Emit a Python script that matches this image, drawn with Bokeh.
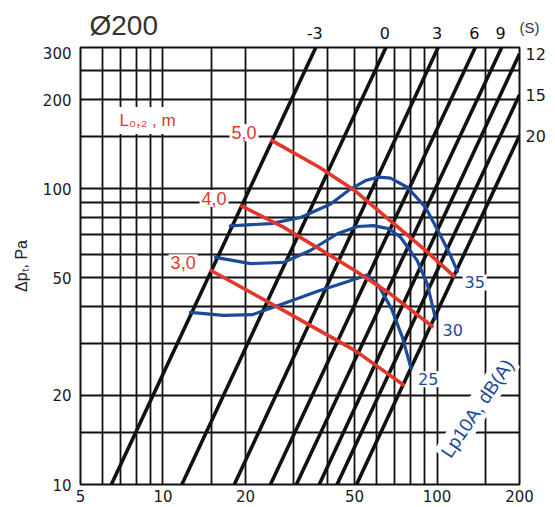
import numpy as np
from bokeh.plotting import figure
from bokeh.layouts import column
from bokeh.models import (FixedTicker, Label, Range1d, CustomJSTickFormatter, LogAxis,
                          LinearAxis)
from bokeh.embed import file_html
from bokeh.resources import INLINE

# ---------------- data ----------------
x_ticks = [5, 10, 20, 50, 100, 200]
y_ticks = [10, 20, 50, 100, 200, 300]
x_grid = [5, 6, 7, 8, 9, 10, 15, 20, 30, 40, 50, 60, 70, 80, 90, 100, 150, 200]
y_grid = [10, 15, 20, 30, 40, 50, 60, 70, 80, 90, 100, 150, 200, 250, 300]

# black diagonal lines (label, q at start, dp at start, q at end, dp at end)
diag_labels = ["-3", "0", "3", "6", "9", "12", "15", "20"]
diag_q0 = [6.48, 11.72, 18.21, 24.67, 30.67, 37.18, 43.18, 50.85]
diag_dp0 = [10, 10, 10, 10, 10, 10, 10, 10]
diag_q1 = [36.1, 65.1, 100.9, 137.9, 172.2, 200, 200, 200]
diag_dp1 = [300, 300, 300, 300, 300, 285.5, 207.5, 151.2]
diag_unit = "(S)"

# red throw lines L0,2
red_labels = ["5,0", "4,0", "3,0"]
red_q = [
    [24.7, 37.2, 50.1, 67.5, 90.8, 116.4],
    [19.2, 27.6, 37.2, 50.1, 67.5, 97.0],
    [14.8, 27.6, 50.1, 76.0],
]
red_dp = [
    [146.2, 118.1, 98.5, 78.0, 61.8, 50.2],
    [87.7, 74.0, 62.6, 52.9, 44.1, 34.0],
    [53.2, 38.7, 28.4, 21.6],
]

# blue sound level curves Lp10A
blue_labels = ["35", "30", "25"]
blue_q = [
    [17.6, 24.7, 31.8, 40.9, 48.3, 54.9, 61.2, 67.7, 78.1, 90.8, 103.0, 112.0, 118.8],
    [15.55, 20.9, 27.5, 34.5, 43.3, 51.3, 58.7, 66.5, 73.6, 84.7, 92.1, 98.7],
    [12.6, 16.6, 21.2, 27.6, 36.9, 46.4, 55.6, 61.2, 68.2, 74.6, 80.4],
]
blue_dp = [
    [74.9, 76.2, 79.9, 88.7, 99.7, 106.5, 109.4, 108.6, 100.9, 86.4, 69.4, 59.4, 52.5],
    [58.6, 55.8, 56.3, 61.8, 70.4, 74.5, 75.0, 73.3, 68.5, 57.1, 47.7, 36.4],
    [38.2, 37.3, 37.5, 40.9, 45.1, 48.3, 51.1, 47.0, 39.3, 31.6, 24.7],
]

RED = "#e2372a"
BLUE = "#1c4a9a"
BLACK = "#111111"
FONT = "Liberation Sans"
NUMFONT = "DejaVu Sans"

# layout (pixels)
W, H_TOP, H_MAIN = 555, 46, 461
B_LEFT, B_RIGHT, B_TOP, B_BOTTOM = 80, 36, 1, 23
X0, X1, Y0, Y1 = 5, 200, 10, 300

p = figure(width=W, height=H_MAIN, x_axis_type="log", y_axis_type="log",
           x_range=Range1d(X0, X1), y_range=Range1d(Y0, Y1),
           output_backend="svg", toolbar_location=None,
           min_border_left=B_LEFT, min_border_right=B_RIGHT,
           min_border_top=B_TOP, min_border_bottom=B_BOTTOM)
p.background_fill_color = "white"
p.border_fill_color = "white"
p.outline_line_color = BLACK
p.outline_line_width = 2

# grid
p.xgrid.ticker = FixedTicker(ticks=x_grid, minor_ticks=[])
p.ygrid.ticker = FixedTicker(ticks=y_grid, minor_ticks=[])
for g in (p.xgrid, p.ygrid):
    g.grid_line_color = BLACK
    g.grid_line_width = 1.8
    g.grid_line_alpha = 1.0
    g.minor_grid_line_color = None

int_fmt = CustomJSTickFormatter(code="return String(Math.round(tick));")


def style_axis(ax, standoff, size="15px", font=NUMFONT, color="#1a1a1a"):
    ax.major_tick_out = 0
    ax.major_tick_in = 0
    ax.minor_tick_out = 0
    ax.minor_tick_in = 0
    ax.axis_line_color = None
    ax.major_label_standoff = standoff
    ax.major_label_text_font = font
    ax.major_label_text_font_size = size
    ax.major_label_text_color = color


# left axis
p.yaxis.ticker = FixedTicker(ticks=y_ticks, minor_ticks=[])
p.yaxis.formatter = int_fmt
style_axis(p.yaxis[0], 9)
p.yaxis.axis_label = "Δpₜ, Pa"
p.yaxis.axis_label_text_font = FONT
p.yaxis.axis_label_text_font_size = "16px"
p.yaxis.axis_label_text_font_style = "normal"
p.yaxis.axis_label_text_color = "#222222"
p.yaxis.axis_label_standoff = 10

# bottom axis
p.xaxis.ticker = FixedTicker(ticks=x_ticks, minor_ticks=[])
p.xaxis.formatter = int_fmt
style_axis(p.xaxis[0], 5)


def label_formatter(vals, labs):
    return CustomJSTickFormatter(args=dict(vals=vals, labs=labs), code="""
        let best = 0;
        for (let i = 0; i < vals.length; i++) {
            if (Math.abs(vals[i] - tick) < Math.abs(vals[best] - tick)) best = i;
        }
        return labs[best];
    """)


# right axis: labels of the black lines ending on the right edge
right_idx = [i for i, d in enumerate(diag_dp1) if d < Y1]
right_vals = [diag_dp1[i] for i in right_idx]
right_labs = [diag_labels[i] for i in right_idx]
right_axis = LogAxis(ticker=FixedTicker(ticks=right_vals, minor_ticks=[]),
                     formatter=label_formatter(right_vals, right_labs))
style_axis(right_axis, 6, "16px")
p.add_layout(right_axis, "right")

# diagonal lines
for q0, d0, q1, d1 in zip(diag_q0, diag_dp0, diag_q1, diag_dp1):
    p.line([q0, q1], [d0, d1], line_color=BLACK, line_width=3.6)

# blue curves
for qs, ds in zip(blue_q, blue_dp):
    p.line(qs, ds, line_color=BLUE, line_width=3.2, line_join="round", line_cap="round")

# red lines
for qs, ds in zip(red_q, red_dp):
    p.line(qs, ds, line_color=RED, line_width=3.6, line_join="round")

# red labels
for lab, qs, ds in zip(red_labels, red_q, red_dp):
    p.add_layout(Label(x=qs[0], y=ds[0], x_offset=-12, y_offset=7, text=lab,
                       text_align="right", text_baseline="middle",
                       text_font=FONT, text_font_size="18px", text_color=RED,
                       background_fill_color="white", padding=2))

# blue labels
for lab, qs, ds in zip(blue_labels, blue_q, blue_dp):
    p.add_layout(Label(x=qs[-1], y=ds[-1], x_offset=5, y_offset=-11, text=lab,
                       text_align="left", text_baseline="middle",
                       text_font=NUMFONT, text_font_size="16px", text_color=BLUE,
                       background_fill_color="white", padding=2))

p.add_layout(Label(x=140.2, y=18.1, text="Lp10A, dB(A)", angle=56, angle_units="deg",
                   text_align="center", text_baseline="middle",
                   text_font=FONT, text_font_size="19px", text_color=BLUE,
                   background_fill_color="white", padding=2))

p.add_layout(Label(x=6.71, y=170, text="L₀,₂ , m", text_align="left",
                   text_baseline="middle", text_font=FONT, text_font_size="17px",
                   text_color=RED, background_fill_color="white", padding=4))

# ---------------- header strip above the frame (same x scale) ----------------
h = figure(width=W, height=H_TOP, x_axis_type="log",
           x_range=p.x_range, y_range=Range1d(0, H_TOP),
           output_backend="svg", toolbar_location=None,
           min_border_left=B_LEFT, min_border_right=B_RIGHT,
           min_border_top=0, min_border_bottom=0)
h.xaxis.visible = False
h.yaxis.visible = False
h.grid.visible = False
h.outline_line_color = None
h.background_fill_color = "white"
h.border_fill_color = "white"

# labels of the black lines ending on the top edge
for lab, q1, d1 in zip(diag_labels, diag_q1, diag_dp1):
    if d1 >= Y1:
        h.add_layout(Label(x=q1, y=H_TOP - 32, x_offset=-1, text=lab,
                           text_align="center", text_baseline="middle",
                           text_font=NUMFONT, text_font_size="16px", text_color=BLACK))

# unit of the black lines, in the right border of the header
unit_axis = LinearAxis(ticker=FixedTicker(ticks=[H_TOP - 27], minor_ticks=[]),
                       formatter=CustomJSTickFormatter(args=dict(u=diag_unit),
                                                       code="return u;"))
style_axis(unit_axis, 0, "15px", FONT, "#333333")
h.add_layout(unit_axis, "right")

h.add_layout(Label(x=X0, y=H_TOP - 25, x_offset=9, text="Ø200",
                   text_align="left", text_baseline="middle",
                   text_font=FONT, text_font_size="28px", text_color="#333333"))

layout = column(h, p, spacing=0)
open("out.html", "w").write(file_html(layout, INLINE))
